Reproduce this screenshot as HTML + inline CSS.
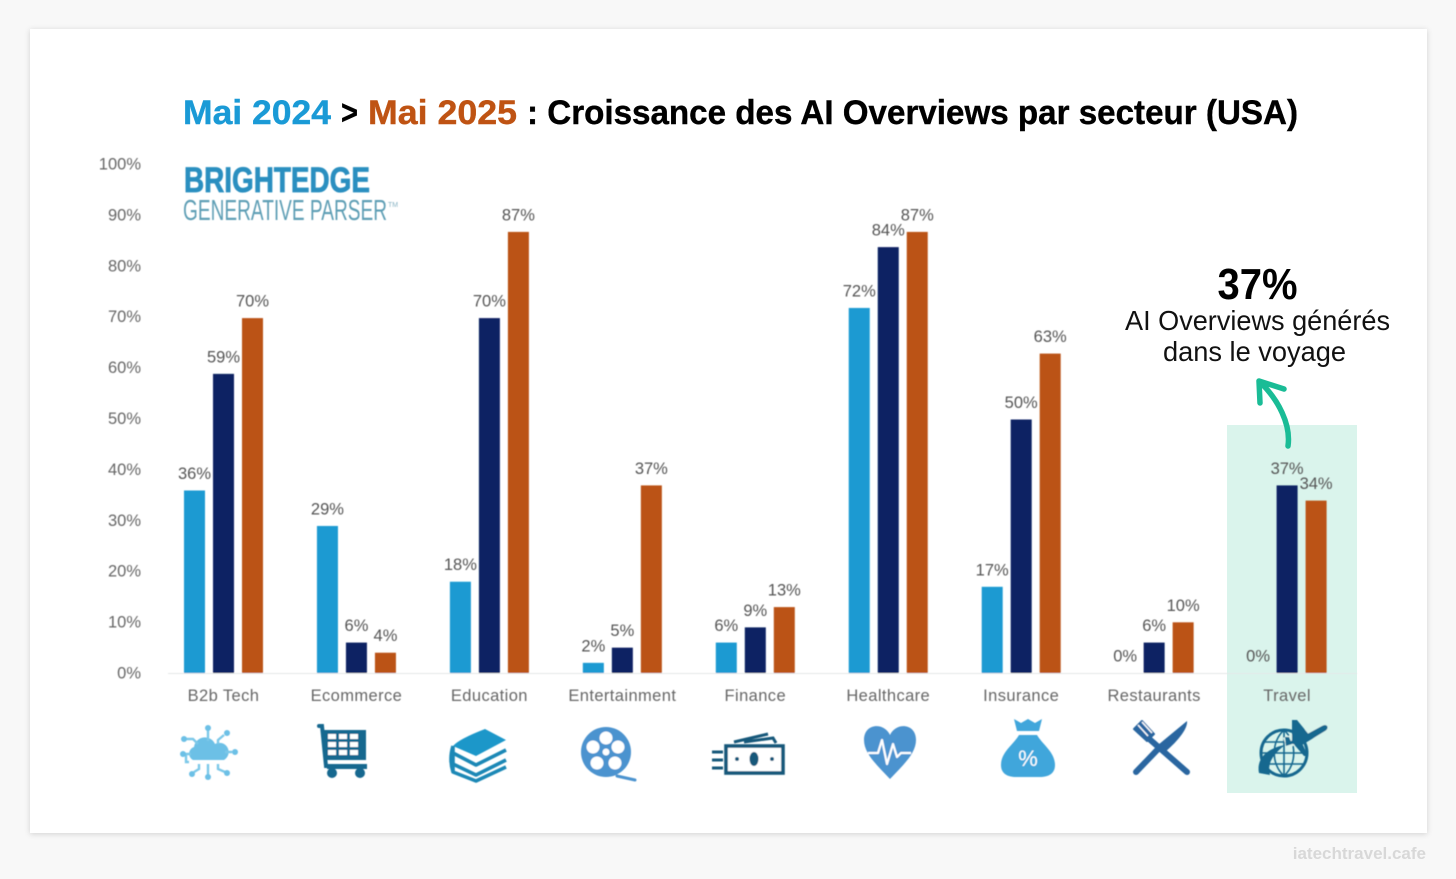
<!DOCTYPE html>
<html lang="fr">
<head>
<meta charset="utf-8">
<title>Croissance des AI Overviews par secteur</title>
<style>
html,body{margin:0;padding:0;background:#f8f8f8;width:1456px;height:879px;overflow:hidden}
svg{display:block;font-family:"Liberation Sans",sans-serif}
</style>
</head>
<body>
<svg id="chart" width="1456" height="879" viewBox="0 0 1456 879">
  <defs>
    <filter id="cardShadow" x="-5%" y="-5%" width="110%" height="110%">
      <feDropShadow dx="0" dy="1" stdDeviation="3" flood-color="#000" flood-opacity="0.16"/>
    </filter>
    <filter id="soft" x="-5%" y="-5%" width="110%" height="110%">
      <feGaussianBlur stdDeviation="0.45"/>
    </filter>
  </defs>
  <rect x="30" y="29" width="1397" height="804" fill="#fff" filter="url(#cardShadow)"/>
  <rect x="1227" y="425" width="130" height="368" fill="#daf4ec"/>

  <text y="124" font-size="34" font-weight="700" fill="#000" stroke="#000" stroke-width="0.4"><tspan x="183" textLength="148" lengthAdjust="spacingAndGlyphs" fill="#1a9ad6" stroke="#1a9ad6">Mai 2024</tspan><tspan x="341" textLength="17" lengthAdjust="spacingAndGlyphs">&gt;</tspan><tspan x="368" textLength="149" lengthAdjust="spacingAndGlyphs" fill="#bf5313" stroke="#bf5313">Mai 2025</tspan><tspan x="527" textLength="771" lengthAdjust="spacingAndGlyphs">: Croissance des AI Overviews par secteur (USA)</tspan></text>

  <g filter="url(#soft)">
    <text x="184" y="192" font-size="35" font-weight="700" fill="#2a8fc0" stroke="#2a8fc0" stroke-width="0.8" textLength="186" lengthAdjust="spacingAndGlyphs">BRIGHTEDGE</text>
    <text x="183" y="220" font-size="29" fill="#5f9fb5" textLength="204" lengthAdjust="spacingAndGlyphs">GENERATIVE PARSER</text>
    <text x="388" y="207" font-size="7" fill="#8ab4c4">TM</text>
  </g>

  <g id="plot" filter="url(#soft)"></g>

  <g filter="url(#soft)">
    <g transform="translate(208,752)" fill="#6cc0e6" stroke="#7cc8e8" stroke-width="2.4">
      <path d="M-15 8a7 7 0 0 1 1-13a11 11 0 0 1 21-3a8 8 0 0 1 9 16z" stroke="none"/>
      <g fill="none">
        <path d="M0 -11V-22M-10 -8l-5 -5h-7M10 -8v-4l6 -5M17 0H24M-17 2h-5v8h3M-9 12v5l-5 3M0 12V24M10 12v5l7 3"/>
      </g>
      <g stroke="none">
        <circle cx="0" cy="-24" r="3"/><circle cx="-24" cy="-13" r="3"/><circle cx="19" cy="-19" r="3"/>
        <circle cx="27" cy="0" r="3"/><circle cx="-25" cy="2" r="3"/><circle cx="-16" cy="22" r="3"/>
        <circle cx="0" cy="25" r="3"/><circle cx="19" cy="21" r="3"/>
      </g>
    </g>
    <g transform="translate(342,752)">
      <path d="M-23 -26h3l4 40h38" fill="none" stroke="#14678f" stroke-width="4" stroke-linecap="round"/>
      <rect x="-18" y="-22" width="42" height="30" fill="#14678f"/>
      <g fill="#fff">
        <rect x="-14" y="-18" width="8" height="5"/><rect x="-3" y="-18" width="8" height="5"/><rect x="8" y="-18" width="8" height="5"/>
        <rect x="-14" y="-10" width="8" height="5"/><rect x="-3" y="-10" width="8" height="5"/><rect x="8" y="-10" width="8" height="5"/>
        <rect x="-14" y="-2" width="8" height="5"/><rect x="-3" y="-2" width="8" height="5"/><rect x="8" y="-2" width="8" height="5"/>
      </g>
      <rect x="-15" y="12" width="40" height="5" fill="#14678f"/>
      <circle cx="-10" cy="21" r="5" fill="#14678f"/><circle cx="18" cy="21" r="5" fill="#14678f"/>
    </g>
    <g transform="translate(479,754)">
      <path d="M-26 -8Q-20 -15 6 -25L27 -14L-3 2z" fill="#1d97c9"/>
      <path d="M-26 -8v7l23 12l30 -15M-26 1v9l23 11l30 -15M-26 10v8l23 9l30 -14M-26 -8Q-30 5 -26 18" fill="none" stroke="#1d88b6" stroke-width="3.6" stroke-linejoin="round"/>
    </g>
    <g transform="translate(607,752)">
      <path d="M10 24l18 4" stroke="#4b93cf" stroke-width="3" stroke-linecap="round"/>
      <circle cx="-1" cy="0" r="25" fill="#4b93cf"/>
      <g fill="#fff">
        <circle cx="-1" cy="-14" r="6.5"/><circle cx="-14" cy="-5" r="6.5"/><circle cx="11" cy="-5" r="6.5"/>
        <circle cx="-10" cy="11" r="6.5"/><circle cx="8" cy="11" r="6.5"/><circle cx="-1" cy="0" r="3.5"/>
      </g>
    </g>
    <g transform="translate(748,755)">
      <rect x="-22" y="-9" width="57" height="27" fill="#fff" stroke="#17587a" stroke-width="3.6"/>
      <ellipse cx="6" cy="4" rx="4.5" ry="7" fill="#17587a"/>
      <circle cx="-11" cy="4" r="2" fill="#17587a"/><circle cx="24" cy="4" r="2" fill="#17587a"/>
      <path d="M-14 -13L20 -21M-4 -13L25 -17L28 -12M-36 -3h11M-36 5h11M-36 13h11" fill="none" stroke="#17587a" stroke-width="3"/>
    </g>
    <g transform="translate(890,752)">
      <path d="M0 27C-12 14 -26 2 -26 -12C-26 -29 -6 -30 0 -17C6 -30 26 -29 26 -12C26 2 12 14 0 27z" fill="#4b93cf"/>
      <path d="M-22 1h10l4 -13l5 24l6 -20l4 13l4 -4h10" fill="none" stroke="#fff" stroke-width="2.2" stroke-linejoin="round"/>
    </g>
    <g transform="translate(1028,752)">
      <path d="M-14 -33l7 4l7 -4l7 4l7 -4l-3 12h-22z" fill="#3fa6db"/>
      <path d="M-9 -17h18C14 -8 27 0 27 13C27 22 20 25 12 25H-12C-20 25 -27 22 -27 13C-27 0 -14 -8 -9 -17z" fill="#3fa6db"/>
      <text x="0" y="14" font-size="22" fill="#fff" text-anchor="middle">%</text>
    </g>
    <g transform="translate(1161,748)">
      <path d="M-14 -11L26 24" stroke="#2a66a0" stroke-width="6" stroke-linecap="round"/>
      <path d="M-14 -7L-27 -19L-19 -27L-7 -14z" fill="#2a66a0" stroke="#2a66a0" stroke-width="2" stroke-linejoin="round"/>
      <path d="M-23 -23l10 11M-19 -26l10 11" stroke="#fff" stroke-width="1.4"/>
      <path d="M-25 24L-1 -1" stroke="#2a66a0" stroke-width="6" stroke-linecap="round"/>
      <path d="M-3 -3L26 -27C27 -20 18 -8 4 4z" fill="#2a66a0"/>
    </g>
    <g transform="translate(1292,748)">
      <circle cx="-8" cy="5" r="23" fill="none" stroke="#14678f" stroke-width="3"/>
      <path d="M-31 5H15M-8 -18V28M-8 -18C-21 -6 -21 16 -8 28M-8 -18C5 -6 5 16 -8 28M-28 -6H11M-28 16H11" fill="none" stroke="#14678f" stroke-width="1.6"/>
      <path d="M-33 25C-36 10 -24 0 -7 -3C-20 7 -25 16 -22 27z" fill="#14678f"/>
      <path d="M-7 -5L36 -21" stroke="#daf4ec" stroke-width="11"/>
      <path d="M-7 -5L8 -10L30 -22C35 -25 38 -20 33 -17L10 -3z" fill="#14678f"/>
      <path d="M0 -28L5 -28L18 -12L10 -5L16 8L12 8L0 -6z" fill="#14678f"/>
      <path d="M-7 -11L-3 -11L0 -4L-6 -2z" fill="#14678f"/>
    </g>
  </g>

  <g>
    <text x="1257.5" y="299" font-size="44" font-weight="700" fill="#000" text-anchor="middle" textLength="80" lengthAdjust="spacingAndGlyphs">37%</text>
    <text x="1257.5" y="330" font-size="28" fill="#111" text-anchor="middle" textLength="265" lengthAdjust="spacingAndGlyphs">AI Overviews générés</text>
    <text x="1254.5" y="361" font-size="28" fill="#111" text-anchor="middle" textLength="183" lengthAdjust="spacingAndGlyphs">dans le voyage</text>
    <path d="M1288 446C1291 425 1279 400 1259 381M1259 381L1260 403M1259 381L1284 389" fill="none" stroke="#1abc96" stroke-width="5.5" stroke-linecap="round" stroke-linejoin="round"/>
  </g>

  <text x="1426" y="859" font-size="17" font-weight="700" fill="#d8d8d8" text-anchor="end">iatechtravel.cafe</text>
</svg>

<script>
const categories = ["B2b Tech","Ecommerce","Education","Entertainment","Finance","Healthcare","Insurance","Restaurants","Travel"];
const seriesMay2024 = [36,29,18,2,6,72,17,0,0];
const seriesMid = [59,6,70,5,9,84,50,6,37];
const seriesMay2025 = [70,4,87,37,13,87,63,10,34];
const tickValues = [0,10,20,30,40,50,60,70,80,90,100];

const NS = "http://www.w3.org/2000/svg";
const plot = document.getElementById("plot");
const yScale = v => 673 - v * 5.07;
const tickY = v => 678.5 - v * 5.09;
const groupX = i => 184 + i * 132.95;
const barStep = 29;
const barW = 21;

function svgEl(tag, props, text) {
  const el = document.createElementNS(NS, tag);
  for (const k in props) el.setAttribute(k, props[k]);
  if (text !== undefined) el.textContent = text;
  plot.appendChild(el);
  return el;
}

tickValues.forEach(t => {
  const lab = svgEl("text", {x:141, y:tickY(t), "font-size":16.5, fill:"#666", "text-anchor":"end"}, t + "%");
  
  
});

const axisLine = svgEl("line", {x1:168, x2:1357, y1:673.5, y2:673.5, stroke:"#e4e8e8", "stroke-width":1});



const seriesList = [
  {values: seriesMay2024, color: "#1b9ad2"},
  {values: seriesMid, color: "#0a2463"},
  {values: seriesMay2025, color: "#bb5316"}
];

categories.forEach((name, i) => {
  const cat = svgEl("text", {x:groupX(i)+39.5, y:701, "font-size":16.5, "letter-spacing":0.4, fill:"#666", "text-anchor":"middle"}, name);
  
  

  seriesList.forEach((s, j) => {
    const v = s.values[i];
    const x = groupX(i) + j * barStep;
    if (v > 0) {
      const bar = svgEl("rect", {x:x, y:yScale(v), width:barW, height:yScale(0)-yScale(v), fill:s.color});
      
      
    }
    const lab = svgEl("text", {x:x+barW/2, y:yScale(v)-11.5, "font-size":16.5, fill:"#555", "text-anchor":"middle"}, v + "%");
    
    
  });
});
</script>
</body>
</html>
